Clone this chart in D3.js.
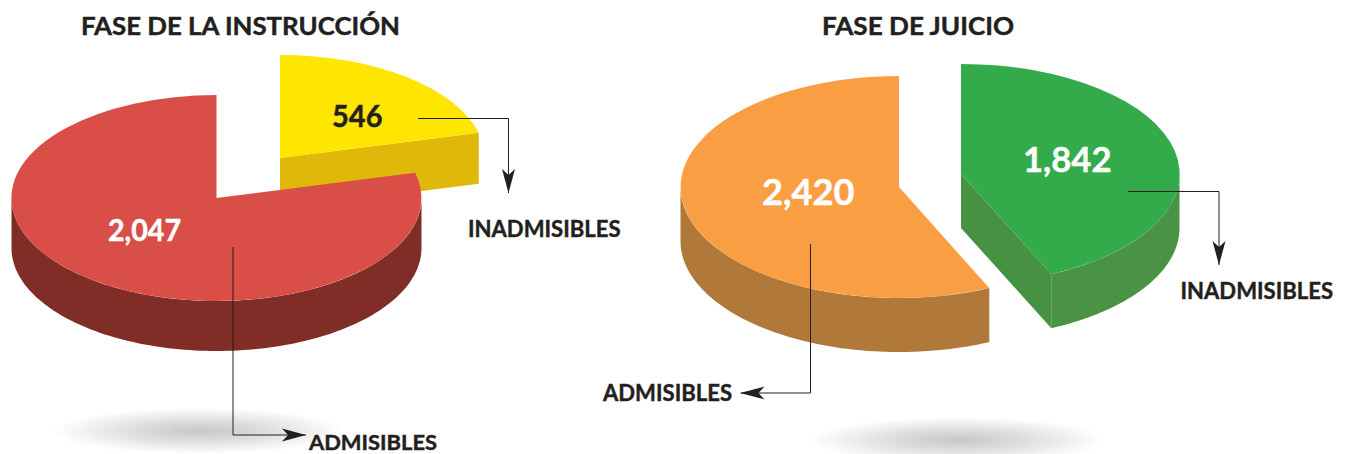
<!DOCTYPE html>
<html><head><meta charset="utf-8">
<script src="https://cdnjs.cloudflare.com/ajax/libs/d3/7.8.5/d3.min.js"></script>
<style>
html,body{margin:0;padding:0;background:#fff;overflow:hidden}
svg{display:block}
text{font-family:Lato,"Open Sans",sans-serif;font-weight:700;fill:#231f20;stroke-width:.45px}
</style></head><body><svg id="c" width="1349" height="454"></svg>
<script>
// data
const titles = ["FASE DE LA INSTRUCCIÓN", "FASE DE JUICIO"];
const categories = ["INADMISIBLES", "ADMISIBLES"];
const instruccionValues = [546, 2047];
const juicioValues = [1842, 2420];

const fmt = d3.format(",");
const svg = d3.select("#c");

// shadows
const defs = svg.append("defs");
const grad = defs.append("radialGradient").attr("id", "shadow");
grad.append("stop").attr("offset", "0%").attr("stop-color", "#c6c7c9");
grad.append("stop").attr("offset", "45%").attr("stop-color", "#dddee0");
grad.append("stop").attr("offset", "100%").attr("stop-color", "#ffffff");
function arrowMarker(id){
  defs.append("marker").attr("id", id).attr("viewBox", "0 0 24 14")
    .attr("refX", 24).attr("refY", 7).attr("markerUnits", "userSpaceOnUse")
    .attr("markerWidth", 24).attr("markerHeight", 14).attr("orient", "auto")
    .append("path").attr("d", "M24,7 L0,0.5 L6,7 L0,13.5 Z").attr("fill", "#231f20");
}
arrowMarker("arrow");

[[199, 431, 147, 23], [958, 440, 148, 23]].forEach(s => {
  svg.append("ellipse").attr("cx", s[0]).attr("cy", s[1]).attr("rx", s[2]).attr("ry", s[3]).attr("fill", "url(#shadow)");
});

const pie = d3.pie().sort(null).value(d => d);
const arc = d3.arc().innerRadius(0).outerRadius(1);
const line = d3.line();
const RAD = Math.PI / 180;

function slice3D(d, g, o) {
  const px = a => o.cx + o.rx * Math.sin(a), py = a => o.cy - o.ry * Math.cos(a);
  // outer wall: part of the rim that faces the viewer
  const a0 = Math.max(d.startAngle, 90 * RAD), a1 = Math.min(d.endAngle, 270 * RAD);
  if (a1 > a0) {
    const angles = d3.range(0, 121).map(i => a0 + (a1 - a0) * i / 120);
    const pts = angles.map(a => [px(a), py(a)]).concat(angles.slice().reverse().map(a => [px(a), py(a) + o.depth]));
    g.append("path").attr("d", line(pts) + "Z").attr("fill", o.side);
  }
  // cut faces
  const face = a => [[o.cx, o.cy], [px(a), py(a)], [px(a), py(a) + o.depth], [o.cx, o.cy + o.depth]];
  if (Math.sin(d.endAngle) > 0.01) g.append("path").attr("d", line(face(d.endAngle)) + "Z").attr("fill", o.cut || o.side);
  if (Math.sin(d.startAngle) < -0.01) g.append("path").attr("d", line(face(d.startAngle)) + "Z").attr("fill", o.cut || o.side);
  // top
  g.append("path").attr("d", arc(d)).attr("transform", `translate(${o.cx},${o.cy}) scale(${o.rx},${o.ry})`).attr("fill", o.top);
}

const piesLeft = pie(instruccionValues), piesRight = pie(juicioValues);
const styleLeft = [
  {cx: 280, cy: 158, rx: 205, ry: 103, depth: 51, top: "#ffe600", side: "#e0b809"},
  {cx: 216.5, cy: 198, rx: 205, ry: 103, depth: 50, top: "#d94f47", side: "#7f2d26"}];
const styleRight = [
  {cx: 961, cy: 174, rx: 218.5, ry: 110, depth: 54, top: "#33ab4a", side: "#4a9345", cut: "#469242"},
  {cx: 899, cy: 187, rx: 218.5, ry: 111, depth: 54, top: "#fa9e44", side: "#b0793a"}];

piesLeft.forEach((d, i) => slice3D(d, svg.append("g"), styleLeft[i]));
piesRight.forEach((d, i) => slice3D(d, svg.append("g"), styleRight[i]));

// leaders
const leaders = [
  [[418, 118.5], [508.5, 118.5], [508.5, 193]],
  [[233, 247], [233, 435], [306, 435]],
  [[1128, 191.5], [1219, 191.5], [1219, 265]],
  [[810.5, 244], [810.5, 393], [740.5, 393]]];
leaders.forEach(p => svg.append("path").attr("d", line(p)).attr("fill", "none")
  .attr("stroke", "#231f20").attr("stroke-width", 1).attr("marker-end", "url(#arrow)"));

function label(t, x0, x1, y, size, fill) {
  const c = fill || "#231f20";
  svg.append("text").text(t).attr("x", x0).attr("y", y).attr("font-size", size)
    .attr("textLength", x1 - x0).attr("lengthAdjust", "spacingAndGlyphs").style("fill", c).style("stroke", c);
}
label(titles[0], 81, 400, 35, 24.5);
label(titles[1], 822, 1014, 35, 24.5);
label(fmt(instruccionValues[0]), 332, 382.5, 127, 30.5);
label(fmt(instruccionValues[1]), 108, 181, 241, 30.5, "#fff");
label(fmt(juicioValues[0]), 1023, 1111.5, 172, 35, "#fff");
label(fmt(juicioValues[1]), 762, 854.5, 205, 36, "#fff");
label(categories[0], 468, 620.5, 237, 23);
label(categories[1], 309, 437, 450, 21.5);
label(categories[0], 1180.5, 1333, 299, 23);
label(categories[1], 603, 732, 401, 23);
</script></body></html>
